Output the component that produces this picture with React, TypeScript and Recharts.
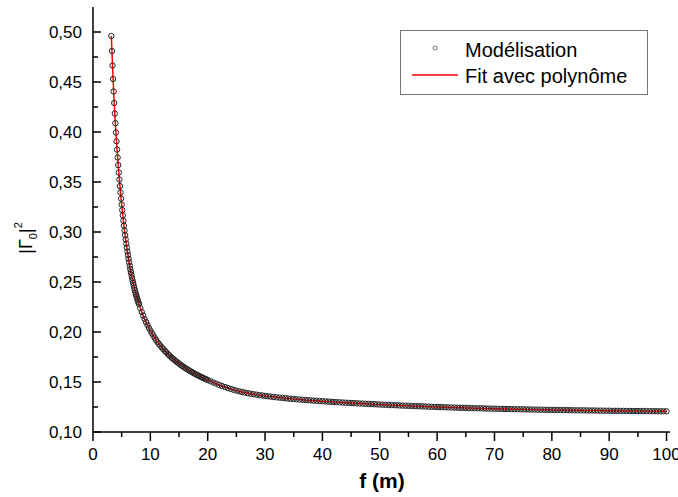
import { ComposedChart, Scatter, Line, XAxis, YAxis, Legend } from "recharts";

const FONT = "'Liberation Sans', Arial, sans-serif";

// frequency (m) values of the modelled points
const freq = [
  3.2, 3.3, 3.4, 3.5, 3.6, 3.7, 3.8, 3.9, 4.0, 4.1, 4.2, 4.3, 4.4, 4.5, 4.6, 4.7, 4.8, 4.9,
  5.0, 5.1, 5.2, 5.3, 5.4, 5.5, 5.6, 5.7, 5.8, 5.9, 6.0, 6.1, 6.2, 6.3, 6.4, 6.5, 6.6, 6.7,
  6.8, 6.9, 7.0, 7.1, 7.2, 7.3, 7.4, 7.5, 7.6, 7.7, 7.8, 7.9, 8.0,
  8.25, 8.5, 8.75, 9.0, 9.25, 9.5, 9.75, 10.0, 10.25, 10.5, 10.75, 11.0, 11.25, 11.5, 11.75,
  12.0, 12.25, 12.5, 12.75, 13.0, 13.25, 13.5, 13.75, 14.0, 14.25, 14.5, 14.75, 15.0, 15.25,
  15.5, 15.75, 16.0, 16.25, 16.5, 16.75, 17.0, 17.25, 17.5, 17.75, 18.0, 18.25, 18.5, 18.75,
  19.0, 19.25, 19.5, 19.75, 20.0,
  20.5, 21, 21.5, 22, 22.5, 23, 23.5, 24, 24.5, 25, 25.5, 26, 26.5, 27, 27.5, 28, 28.5, 29,
  29.5, 30, 30.5, 31, 31.5, 32, 32.5, 33, 33.5, 34, 34.5, 35, 35.5, 36, 36.5, 37, 37.5, 38,
  38.5, 39, 39.5, 40, 40.5, 41, 41.5, 42, 42.5, 43, 43.5, 44, 44.5, 45, 45.5, 46, 46.5, 47,
  47.5, 48, 48.5, 49, 49.5, 50, 50.5, 51, 51.5, 52, 52.5, 53, 53.5, 54, 54.5, 55, 55.5, 56,
  56.5, 57, 57.5, 58, 58.5, 59, 59.5, 60, 60.5, 61, 61.5, 62, 62.5, 63, 63.5, 64, 64.5, 65,
  65.5, 66, 66.5, 67, 67.5, 68, 68.5, 69, 69.5, 70, 70.5, 71, 71.5, 72, 72.5, 73, 73.5, 74,
  74.5, 75, 75.5, 76, 76.5, 77, 77.5, 78, 78.5, 79, 79.5, 80, 80.5, 81, 81.5, 82, 82.5, 83,
  83.5, 84, 84.5, 85, 85.5, 86, 86.5, 87, 87.5, 88, 88.5, 89, 89.5, 90, 90.5, 91, 91.5, 92,
  92.5, 93, 93.5, 94, 94.5, 95, 95.5, 96, 96.5, 97, 97.5, 98, 98.5, 99, 99.5, 100,
];

// |Gamma0|^2
const gamma2 = [
  0.496, 0.481, 0.4665, 0.453, 0.4405, 0.429, 0.4185, 0.4088, 0.3995, 0.3907, 0.3824, 0.3745,
  0.3669, 0.3595, 0.3525, 0.3459, 0.3395, 0.3334, 0.3275, 0.3219, 0.3165, 0.3113, 0.3063,
  0.3015, 0.2969, 0.2925, 0.2883, 0.2843, 0.2805, 0.2768, 0.2732, 0.2697, 0.2663, 0.263,
  0.26, 0.2571, 0.2543, 0.2516, 0.249, 0.2465, 0.2441, 0.2418, 0.2396, 0.2375, 0.2355,
  0.2335, 0.2316, 0.2298, 0.228,
  0.2239, 0.22, 0.2164, 0.213, 0.2099, 0.207, 0.2042, 0.2015, 0.1989, 0.1965, 0.1942, 0.192,
  0.1899, 0.188, 0.1862, 0.1845, 0.1829, 0.1813, 0.1798, 0.1783, 0.1769, 0.1755, 0.1742,
  0.173, 0.1718, 0.1706, 0.1695, 0.1684, 0.1673, 0.1663, 0.1653, 0.1643, 0.1634, 0.1625,
  0.1616, 0.1607, 0.1599, 0.1591, 0.1583, 0.1575, 0.1568, 0.156, 0.1553, 0.1546, 0.1539,
  0.1533, 0.1526, 0.152,
  0.1507, 0.1495, 0.1483, 0.1471, 0.146, 0.145, 0.144, 0.1431, 0.1422, 0.1414, 0.1407, 0.14,
  0.1394, 0.1388, 0.1383, 0.1378, 0.1373, 0.1369, 0.1365, 0.1361, 0.1357, 0.1354, 0.135,
  0.1347, 0.1344, 0.1341, 0.1338, 0.1335, 0.1332, 0.133, 0.1327, 0.1325, 0.1323, 0.132,
  0.1318, 0.1316, 0.1314, 0.1312, 0.131, 0.1308, 0.1306, 0.1304, 0.1302, 0.13, 0.1298,
  0.1297, 0.1295, 0.1293, 0.1292, 0.129, 0.1288, 0.1287, 0.1285, 0.1284, 0.1282, 0.1281,
  0.1279, 0.1278, 0.1276, 0.1275, 0.1273, 0.1272, 0.1271, 0.1269, 0.1268, 0.1267, 0.1265,
  0.1264, 0.1263, 0.1262, 0.126, 0.1259, 0.1258, 0.1257, 0.1256, 0.1255, 0.1253, 0.1252,
  0.1251, 0.125, 0.1249, 0.1248, 0.1247, 0.1246, 0.1245, 0.1244, 0.1243, 0.1242, 0.1242,
  0.1241, 0.124, 0.1239, 0.1238, 0.1237, 0.1237, 0.1236, 0.1235, 0.1234, 0.1234, 0.1233,
  0.1232, 0.1232, 0.1231, 0.123, 0.123, 0.1229, 0.1228, 0.1228, 0.1227, 0.1227, 0.1226,
  0.1225, 0.1225, 0.1224, 0.1224, 0.1223, 0.1223, 0.1222, 0.1222, 0.1221, 0.1221, 0.122,
  0.122, 0.1219, 0.1219, 0.1218, 0.1218, 0.1217, 0.1217, 0.1217, 0.1216, 0.1216, 0.1215,
  0.1215, 0.1215, 0.1214, 0.1214, 0.1213, 0.1213, 0.1213, 0.1212, 0.1212, 0.1212, 0.1211,
  0.1211, 0.1211, 0.121, 0.121, 0.121, 0.1209, 0.1209, 0.1209, 0.1209, 0.1208, 0.1208,
  0.1208, 0.1207, 0.1207, 0.1207, 0.1207,
];

const xTicks = [0, 5, 10, 15, 20, 25, 30, 35, 40, 45, 50, 55, 60, 65, 70, 75, 80, 85, 90, 95, 100];
const yTicks = [0.1, 0.125, 0.15, 0.175, 0.2, 0.225, 0.25, 0.275, 0.3, 0.325, 0.35, 0.375, 0.4, 0.425, 0.45, 0.475, 0.5];
const seriesNames = ["Modélisation", "Fit avec polynôme"];

const data = freq.map((f, i) => ({ f, g: gamma2[i] }));

const isMajorX = (v: number) => Math.abs(v % 10) < 1e-6;
const isMajorY = (v: number) => Math.abs(v * 20 - Math.round(v * 20)) < 1e-6;

const BottomTick = (props: any) => {
  const { x, y, payload } = props;
  const major = isMajorX(payload.value);
  return (
    <g>
      <line x1={x} x2={x} y1={y} y2={y + (major ? 9 : 5)} stroke="#000" strokeWidth={1.5} />
      {major && (
        <text x={x} y={y + 28} textAnchor="middle" fontSize={17} fontFamily={FONT} fill="#000">
          {payload.value}
        </text>
      )}
    </g>
  );
};

const TopTick = (props: any) => {
  const { x, y, payload } = props;
  const major = isMajorX(payload.value);
  return <line x1={x} x2={x} y1={y} y2={y + (major ? 8 : 5)} stroke="#000" strokeWidth={1.5} />;
};

const LeftTick = (props: any) => {
  const { x, y, payload } = props;
  const major = isMajorY(payload.value);
  return (
    <g>
      <line x1={x} x2={x + (major ? 8 : 5)} y1={y} y2={y} stroke="#000" strokeWidth={1.5} />
      {major && (
        <text x={x - 11} y={y + 6} textAnchor="end" fontSize={17} fontFamily={FONT} fill="#000">
          {payload.value.toFixed(2).replace(".", ",")}
        </text>
      )}
    </g>
  );
};

const RightTick = (props: any) => {
  const { x, y, payload } = props;
  const major = isMajorY(payload.value);
  return <line x1={x} x2={x - (major ? 8 : 5)} y1={y} y2={y} stroke="#000" strokeWidth={1.5} />;
};

const PointShape = (p: any) => (
  <circle cx={p.cx} cy={p.cy} r={2.7} fill="none" stroke="#222" strokeWidth={1} />
);

const LegendBox = () => (
  <svg width={248} height={65} style={{ display: "block" }}>
    <rect x={0.5} y={0.5} width={247} height={64} fill="#fff" stroke="#777" />
    <circle cx={35} cy={18} r={2} fill="none" stroke="#555" strokeWidth={0.8} />
    <text x={65} y={27} fontSize={20} fontFamily={FONT} fill="#000">
      {seriesNames[0]}
    </text>
    <line x1={12} x2={58} y1={45} y2={45} stroke="#ff0000" strokeWidth={1.5} />
    <text x={65} y={53} fontSize={20} fontFamily={FONT} fill="#000">
      {seriesNames[1]}
    </text>
  </svg>
);

export default function App() {
  return (
    <div style={{ position: "absolute", left: 0, top: 0, background: "#fff" }}>
      <ComposedChart width={678} height={497} data={data} margin={{ top: 7, right: 8, left: 0, bottom: 0 }}>
        <XAxis
          dataKey="f"
          type="number"
          domain={[0, 100.6]}
          ticks={xTicks}
          interval={0}
          allowDataOverflow
          height={65}
          tickSize={0}
          tickMargin={0}
          tickLine={false}
          tick={<BottomTick />}
          axisLine={{ stroke: "#000", strokeWidth: 1.5 }}
          label={{
            content: () => (
              <text x={382} y={488} textAnchor="middle" fontSize={21} fontWeight="bold" fontFamily={FONT} fill="#000">
                f (m)
              </text>
            ),
          }}
        />
        <XAxis
          xAxisId="top"
          orientation="top"
          type="number"
          domain={[0, 100.6]}
          ticks={xTicks}
          interval={0}
          allowDataOverflow
          height={0}
          tickSize={0}
          tickMargin={0}
          tickLine={false}
          tick={<TopTick />}
          axisLine={{ stroke: "#000", strokeWidth: 1.5 }}
        />
        <YAxis
          type="number"
          domain={[0.1, 0.525]}
          ticks={yTicks}
          interval={0}
          allowDataOverflow
          width={93}
          tickSize={0}
          tickMargin={0}
          tickLine={false}
          tick={<LeftTick />}
          axisLine={{ stroke: "#000", strokeWidth: 1.5 }}
          label={{
            content: () => (
              <text
                x={238}
                y={0}
                transform="rotate(-90) translate(-476, 32)"
                textAnchor="middle"
                fontSize={18}
                fontFamily={FONT}
                fill="#000"
              >
                |Γ
                <tspan fontSize={11} dy={5}>0</tspan>
                <tspan dy={-5}>|</tspan>
                <tspan fontSize={11} dy={-10}>2</tspan>
              </text>
            ),
          }}
        />
        <YAxis
          yAxisId="right"
          orientation="right"
          type="number"
          domain={[0.1, 0.525]}
          ticks={yTicks}
          interval={0}
          allowDataOverflow
          width={0}
          tickSize={0}
          tickMargin={0}
          tickLine={false}
          tick={<RightTick />}
          axisLine={{ stroke: "#000", strokeWidth: 1.5 }}
        />
        <Legend
          layout="horizontal"
          verticalAlign="middle"
          align="center"
          wrapperStyle={{ position: "absolute", left: 400, top: 30, width: 248, height: 65 }}
          content={() => <LegendBox />}
        />
        <Scatter name={seriesNames[0]} dataKey="g" shape={PointShape} isAnimationActive={false} />
        <Line
          name={seriesNames[1]}
          type="linear"
          dataKey="g"
          stroke="#ff0000"
          strokeWidth={1.5}
          dot={false}
          activeDot={false}
          isAnimationActive={false}
        />
      </ComposedChart>
    </div>
  );
}
